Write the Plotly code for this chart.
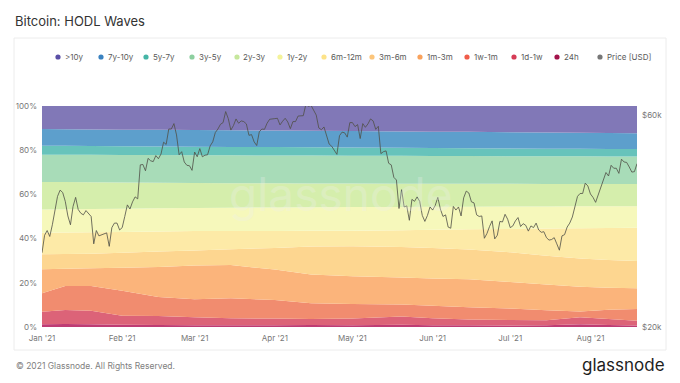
import plotly.graph_objects as go
import pandas as pd

# ---------------- data ----------------
band_names = [">10y", "7y-10y", "5y-7y", "3y-5y", "2y-3y", "1y-2y",
              "6m-12m", "3m-6m", "1m-3m", "1w-1m", "1d-1w", "24h"]

band_dates = ["2021-01-01", "2021-01-10", "2021-01-20", "2021-02-01", "2021-02-15",
              "2021-03-01", "2021-03-15", "2021-04-01", "2021-04-15", "2021-05-01",
              "2021-05-20", "2021-06-01", "2021-06-15", "2021-07-01", "2021-07-15",
              "2021-07-28", "2021-08-08", "2021-08-19"]

# share of supply (%) per age band at each band date
share_24h   = [1.2, 1.4, 1.2, 1.0, 0.9, 0.8, 0.8, 0.8, 0.9, 0.8, 1.0, 0.8, 0.8, 0.7, 0.8, 1.3, 0.9, 0.7]
share_1d1w  = [5.7, 6.3, 6.2, 4.1, 4.1, 3.6, 3.2, 3.0, 2.7, 3.0, 3.8, 3.2, 2.6, 2.5, 2.2, 3.1, 2.7, 2.1]
share_1w1m  = [8.4, 10.9, 11.1, 11.3, 8.6, 8.2, 9.0, 8.4, 7.2, 6.6, 5.4, 5.6, 5.5, 5.2, 4.6, 2.6, 4.2, 5.3]
share_1m3m  = [10.8, 7.8, 8.1, 10.4, 13.6, 15.2, 15.0, 13.8, 13.0, 12.6, 12.2, 12.4, 12.7, 12.0, 11.6, 11.2, 10.0, 9.4]
share_3m6m  = [6.8, 6.6, 6.6, 6.8, 7.0, 6.8, 7.2, 9.8, 12.6, 13.5, 13.8, 13.8, 13.5, 13.4, 13.0, 12.8, 12.5, 12.4]
share_6m12m = [9.8, 9.8, 9.7, 9.4, 9.0, 8.8, 8.2, 7.6, 7.1, 7.1, 7.6, 8.2, 9.1, 10.6, 12.4, 13.7, 14.5, 15.0]
share_1y2y  = [10.5, 10.5, 10.5, 10.5, 10.5, 10.5, 10.6, 10.7, 10.7, 10.7, 10.5, 10.4, 10.2, 10.1, 9.9, 9.9, 9.8, 9.7]
share_2y3y  = [12.4, 12.3, 12.1, 11.9, 11.6, 11.3, 11.1, 10.9, 10.7, 10.6, 10.5, 10.4, 10.4, 10.3, 10.2, 10.1, 10.1, 10.1]
share_3y5y  = [12.3, 12.3, 12.4, 12.4, 12.5, 12.5, 12.6, 12.6, 12.7, 12.6, 12.7, 12.6, 12.6, 12.5, 12.6, 12.6, 12.5, 12.5]
share_5y7y  = [4.1, 4.1, 4.0, 4.0, 3.9, 3.9, 3.8, 3.8, 3.7, 3.7, 3.6, 3.6, 3.5, 3.5, 3.4, 3.3, 3.3, 3.3]
share_7y10y = [7.6, 7.5, 7.5, 7.5, 7.5, 7.5, 7.5, 7.5, 7.5, 7.5, 7.4, 7.4, 7.4, 7.3, 7.3, 7.3, 7.3, 7.2]
share_10y   = [10.4, 10.5, 10.6, 10.7, 10.8, 10.9, 11.0, 11.1, 11.2, 11.3, 11.5, 11.6, 11.7, 11.9, 12.0, 12.1, 12.2, 12.3]

# BTC daily price (USD thousands), 2021-01-01 .. 2021-08-19
price_jan = [29.4, 32.2, 33.0, 32.0, 34.0, 36.8, 39.4, 40.7, 40.2, 38.4, 35.6, 34.0, 37.4, 39.2, 36.8, 36.1,
             35.8, 36.6, 36.0, 35.5, 30.8, 33.0, 32.1, 32.3, 32.4, 32.6, 30.4, 33.5, 34.3, 34.3, 33.1]
price_feb = [33.5, 35.5, 37.7, 36.9, 38.3, 39.3, 38.9, 46.4, 46.5, 45.0, 48.0, 47.4, 47.2, 48.7, 47.9, 49.1,
             52.2, 51.6, 55.9, 55.9, 57.5, 54.2, 48.9, 49.7, 47.1, 46.3, 46.2, 45.1]
price_mar = [49.6, 48.4, 50.5, 48.4, 48.8, 48.9, 51.2, 52.3, 54.9, 55.9, 57.3, 57.8, 61.2, 59.0, 55.6, 56.9,
             58.9, 57.6, 58.3, 58.1, 57.4, 54.1, 54.3, 52.3, 51.3, 55.1, 55.9, 55.8, 57.6, 58.8, 58.8]
price_apr = [59.0, 59.1, 57.1, 58.2, 59.1, 58.0, 56.0, 58.1, 58.1, 59.8, 59.8, 59.9, 63.5, 62.9, 63.2, 61.4,
             60.1, 56.2, 55.7, 56.5, 53.8, 51.7, 51.1, 50.1, 49.0, 54.0, 55.0, 54.8, 53.6, 57.8]
price_may = [57.8, 56.6, 57.2, 53.2, 57.5, 56.4, 57.4, 58.9, 58.3, 55.8, 56.7, 49.2, 49.7, 49.9, 46.8, 46.4,
             43.5, 42.9, 37.0, 40.8, 37.3, 37.5, 34.8, 38.8, 38.4, 39.3, 38.4, 35.7, 34.6, 35.7, 37.3]
price_jun = [36.7, 37.6, 39.2, 36.9, 35.5, 35.8, 33.6, 33.4, 37.4, 36.7, 37.3, 35.6, 39.1, 40.5, 40.1, 38.3,
             38.1, 35.8, 35.5, 35.6, 31.7, 32.5, 33.7, 34.7, 31.6, 32.2, 34.6, 34.5, 35.9, 35.0]
price_jul = [33.5, 33.8, 34.7, 35.3, 33.7, 34.2, 33.9, 32.9, 33.8, 33.5, 34.3, 33.1, 32.7, 32.8, 31.8, 31.4,
             31.5, 31.8, 30.8, 29.8, 32.1, 32.3, 33.6, 34.3, 35.4, 37.3, 39.4, 40.0, 40.0, 42.2, 41.6]
price_aug = [39.9, 39.2, 38.2, 39.7, 40.9, 42.8, 44.6, 43.8, 46.3, 45.6, 45.6, 44.4, 47.8, 47.1, 47.0, 45.9,
             44.7, 44.8, 46.7]

x_ticks = ["2021-01-01", "2021-02-01", "2021-03-01", "2021-04-01", "2021-05-01",
           "2021-06-01", "2021-07-01", "2021-08-01"]
pct_ticks = [0, 20, 40, 60, 80, 100]
pct_labels = ["0%", "20%", "40%", "60%", "80%", "100%"]
usd_ticks = [20000, 60000]
usd_labels = ["$20k", "$60k"]

# ---------------- styles ----------------
fill_colors = {
    ">10y": "#8178b7", "7y-10y": "#5d9fcc", "5y-7y": "#67c3bb", "3y-5y": "#a8dcb8",
    "2y-3y": "#d5eeac", "1y-2y": "#f6f8bb", "6m-12m": "#fdeaa7", "3m-6m": "#fdd690",
    "1m-3m": "#fbb47b", "1w-1m": "#f18c6f", "1d-1w": "#dc6378", "24h": "#be3c74",
}
dot_colors = {
    ">10y": "#5a4fa6", "7y-10y": "#3a82c0", "5y-7y": "#45b5a6", "3y-5y": "#8dcf9f",
    "2y-3y": "#c6e79c", "1y-2y": "#f4f39a", "6m-12m": "#fde389", "3m-6m": "#fcc57a",
    "1m-3m": "#f9a25c", "1w-1m": "#f05c49", "1d-1w": "#d63c56", "24h": "#a3134b",
    "Price [USD]": "#777777",
}

shares = {
    "24h": share_24h, "1d-1w": share_1d1w, "1w-1m": share_1w1m, "1m-3m": share_1m3m,
    "3m-6m": share_3m6m, "6m-12m": share_6m12m, "1y-2y": share_1y2y, "2y-3y": share_2y3y,
    "3y-5y": share_3y5y, "5y-7y": share_5y7y, "7y-10y": share_7y10y, ">10y": share_10y,
}

prices = [p * 1000 for p in (price_jan + price_feb + price_mar + price_apr +
                             price_may + price_jun + price_jul + price_aug)]
price_dates = pd.date_range("2021-01-01", periods=len(prices), freq="D")

W, H = 680, 383
ML, MR, MT, MB = 42, 43, 106, 56
PW, PH = W - ML - MR, H - MT - MB
FONT = "Inter, Roboto, sans-serif"


def xp(px):
    return (px - ML) / PW


def yp(py):
    return (H - MB - py) / PH


fig = go.Figure()

# stacked bands, youngest at the bottom
for name in reversed(band_names):
    fig.add_trace(go.Scatter(
        x=band_dates, y=shares[name], name=name, mode="none",
        stackgroup="hodl", fillcolor=fill_colors[name], line=dict(width=0),
        showlegend=False, hovertemplate=name + ": %{y:.1f}%<extra></extra>",
    ))

fig.add_trace(go.Scatter(
    x=price_dates, y=prices, name="Price [USD]", yaxis="y2", mode="lines",
    line=dict(color="rgba(80,80,72,0.9)", width=0.9), showlegend=False,
))

shapes = []
annotations = []

# card
shapes.append(dict(type="rect", xref="paper", yref="paper",
                   x0=xp(14), x1=xp(666), y0=yp(350), y1=yp(38),
                   line=dict(color="#ececec", width=1), fillcolor="rgba(0,0,0,0)",
                   layer="below"))

# title
annotations.append(dict(text="Bitcoin: HODL Waves", xref="paper", yref="paper",
                        x=xp(13), y=yp(21), xanchor="left", yanchor="middle",
                        showarrow=False, font=dict(family=FONT, size=13, color="#333333")))

# legend (dots + labels)
legend_items = band_names + ["Price [USD]"]
legend_x = [58, 101, 146, 192, 237, 280, 324, 372, 420, 467, 514, 557, 600]
ly = 57
for name, cx in zip(legend_items, legend_x):
    r = 2.6
    shapes.append(dict(type="circle", xref="paper", yref="paper",
                       x0=xp(cx - r), x1=xp(cx + r), y0=yp(ly + r), y1=yp(ly - r),
                       fillcolor=dot_colors[name], line=dict(width=0)))
    annotations.append(dict(text=name, xref="paper", yref="paper",
                            x=xp(cx + 4.5), y=yp(ly), xanchor="left", yanchor="middle",
                            showarrow=False, font=dict(family=FONT, size=8, color="#5a5a5a")))

# watermark
annotations.append(dict(text="glassnode", xref="paper", yref="paper",
                        x=xp(341), y=yp(194), xanchor="center", yanchor="middle",
                        showarrow=False,
                        font=dict(family=FONT, size=46, color="rgba(238,238,238,0.3)")))

# footer
annotations.append(dict(text="© 2021 Glassnode. All Rights Reserved.", xref="paper", yref="paper",
                        x=xp(14), y=yp(366), xanchor="left", yanchor="middle",
                        showarrow=False, font=dict(family=FONT, size=8.5, color="#808080")))
annotations.append(dict(text="glassnode", xref="paper", yref="paper",
                        x=xp(667), y=yp(365), xanchor="right", yanchor="middle",
                        showarrow=False, font=dict(family=FONT, size=17, color="#1e1e1e")))

fig.update_layout(
    width=W, height=H,
    margin=dict(l=ML, r=MR, t=MT, b=MB, pad=0),
    paper_bgcolor="white", plot_bgcolor="white",
    showlegend=False,
    font=dict(family=FONT, size=8, color="#777777"),
    xaxis=dict(type="date", range=["2021-01-01", "2021-08-19"],
               tickvals=x_ticks, tickformat="%b '%y", showgrid=False,
               zeroline=False, showline=False, ticks="", ticklabelstandoff=5,
               tickfont=dict(size=8, color="#777777")),
    yaxis=dict(range=[0, 100], tickvals=pct_ticks, ticktext=pct_labels, showgrid=False,
               zeroline=False, showline=False, ticks="", ticklabelstandoff=4,
               tickfont=dict(size=8, color="#777777")),
    yaxis2=dict(type="log", overlaying="y", side="right",
                range=[4.30103, 4.7993], tickvals=usd_ticks, ticktext=usd_labels,
                showgrid=False, zeroline=False, showline=False, ticks="",
                ticklabelstandoff=4, tickfont=dict(size=8, color="#777777")),
    shapes=shapes, annotations=annotations,
)

fig.write_html("out.html", config={"displayModeBar": False},
               post_script="document.body.style.margin='0';")
